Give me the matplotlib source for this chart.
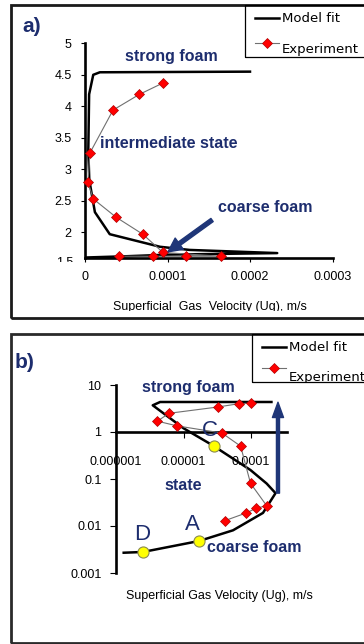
import matplotlib
matplotlib.use("Agg")
import matplotlib.pyplot as plt
from matplotlib.lines import Line2D
from matplotlib.patches import Rectangle
from matplotlib.transforms import Bbox, TransformedBbox

plt.rcParams['font.family'] = ['Liberation Sans', 'DejaVu Sans']

# panel a) linear axes
ua_fit = [1e-6, 5e-5, 1.0e-4, 1.5e-4, 2.33e-4, 1.27e-4, 9.1e-5, 3.0e-5, 1.2e-5, 5.2e-6,
          4.0e-6, 5.0e-6, 1.0e-5, 1.8e-5, 2.0e-4]
ya_fit = [1.60, 1.62, 1.645, 1.655, 1.67, 1.72, 1.77, 1.97, 2.32, 2.83,
          3.30, 4.19, 4.50, 4.54, 4.55]
ua_exp = [9.45e-5, 6.6e-5, 3.4e-5, 6e-6, 3.6e-6, 1.0e-5, 3.76e-5, 7.0e-5, 9.45e-5,
          1.65e-4, 1.23e-4, 8.2e-5, 4.1e-5]
ya_exp = [4.37, 4.19, 3.94, 3.26, 2.80, 2.53, 2.24, 1.97, 1.68,
          1.62, 1.62, 1.62, 1.62]
xa_ticks = [0, 1e-4, 2e-4, 3e-4]
xa_labels = ['0', '0.0001', '0.0002', '0.0003']
ya_ticks = [2, 2.5, 3, 3.5, 4, 4.5, 5]
ya_labels = ['2', '2.5', '3', '3.5', '4', '4.5', '5']

# panel b) log-log axes
ub_fit = [1.3e-6, 2.5e-6, 1.7e-5, 5.4e-5, 1.5e-4, 2.3e-4, 1.7e-4, 9.8e-5, 2.7e-5,
          1.0e-5, 3.5e-6, 4.5e-6, 2.0e-4]
yb_fit = [0.0027, 0.0028, 0.0048, 0.0081, 0.019, 0.05, 0.08, 0.155, 0.52,
          1.2, 3.7, 4.35, 4.35]
ub_exp = [1.0e-4, 6.6e-5, 3.2e-5, 6.1e-6, 4.1e-6, 8.0e-6, 3.7e-5, 7.0e-5, 9.8e-5,
          1.7e-4, 1.2e-4, 8.5e-5, 4.1e-5]
yb_exp = [4.1, 4.0, 3.4, 2.5, 1.7, 1.35, 0.95, 0.5, 0.081,
          0.027, 0.024, 0.019, 0.013]
pt_names = ['D', 'A', 'C']
pt_u = [2.5e-6, 1.7e-5, 2.8e-5]
pt_y = [0.0028, 0.0048, 0.5]
xb_ticks = [1e-6, 1e-5, 1e-4]
xb_labels = ['0.000001', '0.00001', '0.0001']
yb_ticks = [1e-3, 1e-2, 1e-1, 1, 10]
yb_labels = ['0.001', '0.01', '0.1', '1', '10']

NAVY = '#1d2d6e'
ARROW = '#1f3678'
W, H = 364, 644
TICK_FS = 9

fig = plt.figure(figsize=(W / 100, H / 100), dpi=100)


def fx(x):
    return x / W


def fy(y):
    return 1 - y / H


def box(x0, y0, x1, y1):
    return [fx(x0), fy(y1), fx(x1) - fx(x0), fy(y0) - fy(y1)]


def ftext(x, y, s, **kw):
    return fig.text(fx(x), fy(y), s, **kw)


def clip_text(t, x0, y0, x1, y1):
    bb = Bbox.from_extents(fx(x0), fy(y1), fx(x1), fy(y0))
    t.set_clip_box(TransformedBbox(bb, fig.transFigure))
    t.set_clip_on(True)


def frame(x0, y0, x1, y1, lw, color):
    fig.patches.append(Rectangle((fx(x0), fy(y1)), fx(x1) - fx(x0), fy(y0) - fy(y1),
                                 transform=fig.transFigure, fill=False,
                                 lw=lw, edgecolor=color, zorder=0))


def legend_box(x0, y0, y1, yl1, yl2, ytxt2):
    fig.patches.append(Rectangle((fx(x0), fy(y1)), fx(420) - fx(x0), fy(y0) - fy(y1),
                                 transform=fig.transFigure, fill=False,
                                 lw=0.9, edgecolor='black', zorder=5))
    fig.lines.append(Line2D([fx(x0 + 10), fx(x0 + 34)], [fy(yl1), fy(yl1)],
                            transform=fig.transFigure, color='black', lw=1.8))
    fig.lines.append(Line2D([fx(x0 + 10), fx(x0 + 34)], [fy(yl2), fy(yl2)],
                            transform=fig.transFigure, color='#707070', lw=0.8))
    fig.lines.append(Line2D([fx(x0 + 22)], [fy(yl2)], transform=fig.transFigure,
                            marker='D', ms=5.5, mfc='#ff0000', mec='#b00000', mew=0.5))
    ftext(x0 + 37, yl1, 'Model fit', fontsize=9.5, va='center', family='DejaVu Sans')
    t = ftext(x0 + 37, ytxt2, 'Experiment', fontsize=9.5, va='center',
              family='DejaVu Sans')
    clip_text(t, x0, y0, 420, y1 - 0.5)


# outer panel frames
frame(10.5, 5, 420, 318, 2.0, '#1a1a1a')
frame(10.5, 334, 420, 642.5, 2.0, '#2a2a2a')

# ---------------- a) ----------------
ax = fig.add_axes(box(85, 43.3, 332.5, 257.5))
ax.plot(ua_fit, ya_fit, color='black', lw=1.8, zorder=3, solid_joinstyle='round')
ax.plot(ua_exp, ya_exp, color='#707070', lw=0.8, marker='D', ms=5.5,
        mfc='#ff0000', mec='#b00000', mew=0.5, zorder=4, clip_on=False)
ax.set_xlim(0, 3e-4)
ax.set_ylim(1.6, 5)
ax.set_xticks(xa_ticks)
ax.set_xticklabels(xa_labels)
ax.set_yticks(ya_ticks)
ax.set_yticklabels(ya_labels)
for s in ['top', 'right']:
    ax.spines[s].set_visible(False)
for s in ['left', 'bottom']:
    ax.spines[s].set_linewidth(1.9)
ax.tick_params(axis='x', direction='out', length=3, width=0.8, labelsize=TICK_FS, pad=7)
ax.tick_params(axis='y', direction='out', length=3, width=0.8, labelsize=TICK_FS, pad=6.5)
ax.patch.set_alpha(0)
ax.annotate('', xy=(1.006e-4, 1.69), xytext=(1.54e-4, 2.195),
            arrowprops=dict(arrowstyle='simple,head_length=1.0,head_width=1.0,tail_width=0.28',
                            mutation_scale=10, color=ARROW, shrinkA=0, shrinkB=0),
            zorder=6)

t15 = ftext(73, 263.5, '1.5', fontsize=TICK_FS, ha='right', va='center')
clip_text(t15, 40, 250, 84, 262)
txa = ftext(210, 307, 'Superficial  Gas  Velocity (Ug), m/s', fontsize=9,
            ha='center', va='center')
clip_text(txa, 20, 290, 360, 311)

ftext(32, 27, 'a)', fontsize=15, fontweight='bold', color=NAVY, ha='center', va='center')
ftext(125, 57, 'strong foam', fontsize=11.5, fontweight='bold', color=NAVY, va='center')
ftext(100, 144, 'intermediate state', fontsize=11.5, fontweight='bold', color=NAVY,
      va='center')
ftext(218, 207, 'coarse foam', fontsize=11.5, fontweight='bold', color=NAVY, va='center')
legend_box(245, 5, 57, 18, 43, 50)

# ---------------- b) ----------------
bx = fig.add_axes(box(116, 385, 287, 573))
bx.set_xscale('log')
bx.set_yscale('log')
bx.plot(ub_fit, yb_fit, color='black', lw=1.8, zorder=3, solid_joinstyle='round')
bx.plot(ub_exp, yb_exp, color='#707070', lw=0.8, marker='D', ms=5.5,
        mfc='#ff0000', mec='#b00000', mew=0.5, zorder=4, clip_on=False)
bx.plot(pt_u, pt_y, linestyle='none', marker='o', ms=8, mfc='#ffff00',
        mec='#8a8a50', mew=0.8, zorder=5, clip_on=False)
bx.set_xlim(1e-6, 3.4e-4)
bx.set_ylim(1e-3, 10)
bx.xaxis.set_minor_locator(matplotlib.ticker.NullLocator())
bx.yaxis.set_minor_locator(matplotlib.ticker.NullLocator())
bx.set_xticks(xb_ticks)
bx.set_xticklabels(xb_labels)
bx.set_yticks(yb_ticks)
bx.set_yticklabels(yb_labels)
for s in ['top', 'right']:
    bx.spines[s].set_visible(False)
bx.spines['bottom'].set_position(('data', 1))
for s in ['left', 'bottom']:
    bx.spines[s].set_linewidth(1.9)
bx.tick_params(axis='x', direction='out', length=4, width=0.8, labelsize=TICK_FS, pad=13.5)
bx.tick_params(axis='y', direction='out', length=4, width=0.8, labelsize=TICK_FS, pad=6.5)
bx.patch.set_alpha(0)
bx.annotate('', xy=(2.5e-4, 4.3), xytext=(2.5e-4, 0.05),
            arrowprops=dict(arrowstyle='simple,head_length=1.1,head_width=0.8,tail_width=0.22',
                            mutation_scale=10, color=ARROW, shrinkA=0, shrinkB=0),
            zorder=6, annotation_clip=False)

ftext(25, 363, 'b)', fontsize=15, fontweight='bold', color=NAVY, ha='center', va='center')
ftext(142, 387, 'strong foam', fontsize=11.5, fontweight='bold', color=NAVY, va='center')
ftext(183, 486, 'state', fontsize=11.5, fontweight='bold', color=NAVY, ha='center',
      va='center')
ftext(207, 547, 'coarse foam', fontsize=11.5, fontweight='bold', color=NAVY, va='center')
for name, cx, cy in zip(pt_names, [142, 192, 210], [535, 525, 431]):
    ftext(cx, cy, name, fontsize=16, color=NAVY, ha='center', va='center')
ftext(219, 596, 'Superficial Gas Velocity (Ug), m/s', fontsize=9, ha='center',
      va='center')
legend_box(252, 334, 382, 347, 368, 377)

fig.savefig('out.png', dpi=100)
